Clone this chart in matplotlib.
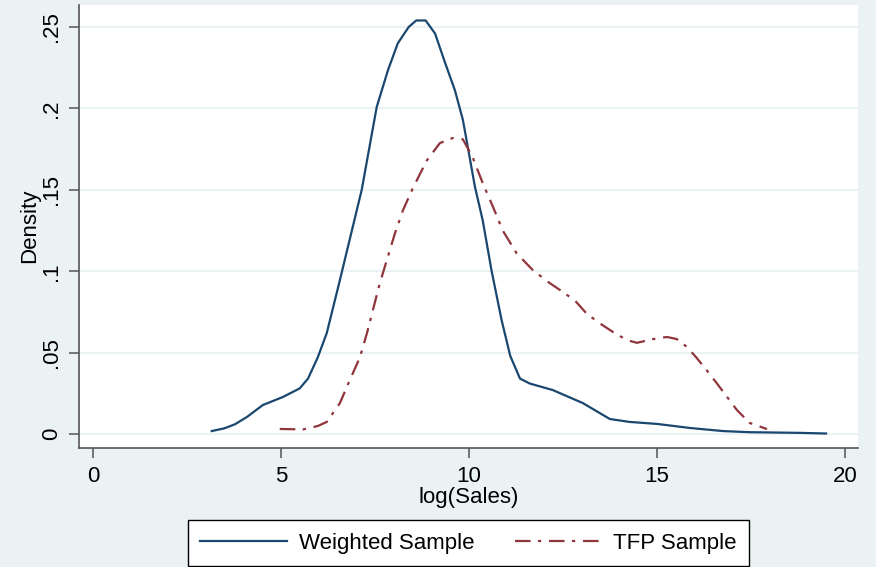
''' kernel density of log sales, weighted vs TFP sample '''

import matplotlib
matplotlib.use('Agg')
import matplotlib.pyplot as plt

# values
weighted_x = [3.16, 3.5, 3.78, 4.1, 4.52, 5.05, 5.5, 5.72, 5.98, 6.22, 6.57, 6.7,
              7.15, 7.55, 7.85, 8.11, 8.4, 8.6, 8.85, 9.1, 9.36, 9.63, 9.84, 9.95,
              10.16, 10.37, 10.6, 10.87, 11.1, 11.36, 11.62, 12.23, 13.03, 13.75,
              14.28, 15.0, 15.88, 16.76, 17.47, 18.8, 19.5]
weighted_y = [0.0018, 0.0035, 0.006, 0.0105, 0.0178, 0.0227, 0.028, 0.034, 0.047,
              0.062, 0.0946, 0.107, 0.15, 0.201, 0.2236, 0.240, 0.25, 0.254, 0.254,
              0.246, 0.2285, 0.211, 0.193, 0.179, 0.152, 0.131, 0.1007, 0.07, 0.048,
              0.034, 0.031, 0.027, 0.019, 0.0092, 0.0074, 0.0062, 0.0037, 0.0018,
              0.0011, 0.0007, 0.0003]

tfp_x = [4.97, 5.59, 5.98, 6.22, 6.57, 6.83, 7.1, 7.29, 7.63, 7.82, 8.03, 8.25, 8.51,
         8.88, 9.23, 9.57, 9.84, 10.1, 10.37, 10.64, 10.9, 11.27, 11.7, 12.15, 12.42,
         12.82, 13.13, 13.48, 13.83, 14.2, 14.47, 14.9, 15.27, 15.53, 15.8, 16.06,
         16.33, 16.6, 17.13, 17.47, 17.93]
tfp_y = [0.0031, 0.0028, 0.0049, 0.0074, 0.019, 0.033, 0.047, 0.062, 0.0925, 0.107,
         0.123, 0.1376, 0.151, 0.168, 0.1787, 0.1818, 0.181, 0.170, 0.154, 0.1396,
         0.125, 0.111, 0.1007, 0.0927, 0.0885, 0.082, 0.074, 0.068, 0.0627, 0.0577,
         0.056, 0.0583, 0.0596, 0.0583, 0.0535, 0.0467, 0.039, 0.031, 0.0147, 0.0068,
         0.003]

x_ticks = [0, 5, 10, 15, 20]
y_ticks = [0, 0.05, 0.1, 0.15, 0.2, 0.25]
y_tick_labels = ['0', '.05', '.1', '.15', '.2', '.25']

BG = '#EAF2F3'
NAVY = '#1A476F'
MAROON = '#90353B'
AXIS = '#555555'

plt.rcParams['font.family'] = ['Liberation Sans', 'DejaVu Sans']

fig = plt.figure(figsize=(8.76, 5.67), dpi=100, facecolor=BG)
ax = fig.add_axes([79/876, 1 - 448/567, (858 - 79)/876, (448 - 5)/567])
ax.set_facecolor('white')

ax.plot(weighted_x, weighted_y, color=NAVY, lw=1.6, label='Weighted Sample')
ax.plot(tfp_x, tfp_y, color=MAROON, lw=1.6, dashes=(7, 3.3, 1.5, 3.5),
        label='TFP Sample')

ax.set_xlim(-0.37, 20.35)
ax.set_ylim(-0.0086, 0.2635)
ax.set_xticks(x_ticks)
ax.set_yticks(y_ticks)
ax.set_yticklabels(y_tick_labels, rotation=90, va='center')

ax.grid(axis='y', color=BG, lw=1.5)
ax.set_axisbelow(True)
for side in ['top', 'right']:
    ax.spines[side].set_visible(False)
for side in ['left', 'bottom']:
    ax.spines[side].set_color(AXIS)
    ax.spines[side].set_linewidth(1.2)

ax.tick_params(axis='both', direction='out', length=7, width=1.1, color=AXIS,
               labelsize=16, labelcolor='black')
ax.tick_params(axis='y', pad=5)
ax.tick_params(axis='x', pad=6)

fig.text(30/876, 1 - 226/567, 'Density', rotation=90, fontsize=16,
         ha='center', va='center')
fig.text(468.5/876, 1 - 498/567, 'log(Sales)', fontsize=16,
         ha='center', va='center')

leg = fig.legend(loc='center', bbox_to_anchor=(468.5/876, 1 - 543/567), ncol=2,
                 fontsize=16, frameon=True, fancybox=False, handlelength=3.9,
                 handletextpad=0.55, columnspacing=1.8, borderpad=0.55,
                 borderaxespad=0)
leg.get_frame().set_edgecolor('black')
leg.get_frame().set_linewidth(1.0)
leg.get_frame().set_facecolor('white')
leg.get_frame().set_alpha(1)

fig.savefig('out.png', dpi=100, facecolor=BG)
